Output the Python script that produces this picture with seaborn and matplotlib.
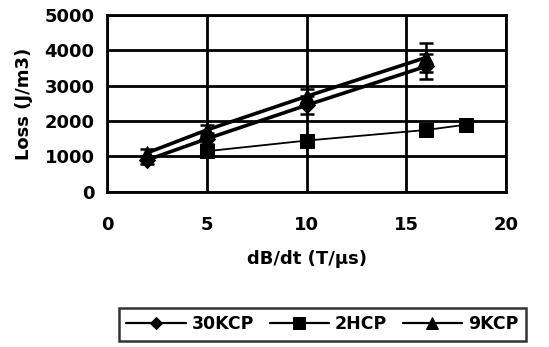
import matplotlib
matplotlib.use("Agg")
import matplotlib.pyplot as plt
import pandas as pd
import seaborn as sns

# 读取自图片的数据
x_30kcp = [2, 5, 10, 16]
loss_30kcp = [900, 1500, 2450, 3550]
err_30kcp = [100, 150, 250, 350]

x_2hcp = [5, 10, 16, 18]
loss_2hcp = [1150, 1450, 1750, 1900]

x_9kcp = [2, 5, 10, 16]
loss_9kcp = [1100, 1750, 2700, 3800]
err_9kcp = [100, 150, 200, 400]

x_ticks = [0, 5, 10, 15, 20]
y_ticks = [0, 1000, 2000, 3000, 4000, 5000]

sns.set_style("white")
plt.rcParams['font.family'] = ['DejaVu Sans']
plt.rcParams['font.weight'] = 'bold'
plt.rcParams['text.color'] = 'black'
plt.rcParams['axes.labelcolor'] = 'black'
plt.rcParams['xtick.color'] = 'black'
plt.rcParams['ytick.color'] = 'black'

df = pd.concat([
    pd.DataFrame({'x': x_30kcp, 'loss': loss_30kcp, 'series': '30KCP'}),
    pd.DataFrame({'x': x_2hcp, 'loss': loss_2hcp, 'series': '2HCP'}),
    pd.DataFrame({'x': x_9kcp, 'loss': loss_9kcp, 'series': '9KCP'}),
], ignore_index=True)

fig = plt.figure(figsize=(5.49, 3.47), dpi=100)
ax = fig.add_axes([0.195, 0.447, 0.727, 0.51])

# 网格线
for yt in y_ticks:
    ax.axhline(yt, color='black', lw=2, zorder=1)
for xt in x_ticks:
    ax.axvline(xt, color='black', lw=2, zorder=1)

styles = {'30KCP': ('D', 2.6, 8), '2HCP': ('s', 1.3, 10), '9KCP': ('^', 2.6, 10)}
for name, (mk, lw, ms) in styles.items():
    sub = df[df['series'] == name]
    sns.lineplot(data=sub, x='x', y='loss', ax=ax, color='black', marker=mk,
                 markersize=ms, linewidth=lw, markeredgecolor='black',
                 label=name, zorder=3)

ax.errorbar(x_30kcp, loss_30kcp, yerr=err_30kcp, fmt='none', ecolor='black',
            elinewidth=1.8, capsize=5, capthick=1.8, zorder=4)
ax.errorbar(x_9kcp, loss_9kcp, yerr=err_9kcp, fmt='none', ecolor='black',
            elinewidth=1.8, capsize=5, capthick=1.8, zorder=4)

ax.set_xlim(0, 20)
ax.set_ylim(0, 5000)
ax.set_xticks(x_ticks)
ax.set_yticks(y_ticks)
ax.tick_params(axis='both', labelsize=13, length=6, width=1.5, direction='inout',
               colors='black')
ax.tick_params(axis='x', pad=14)
ax.tick_params(axis='y', pad=6)
for lab in ax.get_xticklabels() + ax.get_yticklabels():
    lab.set_fontweight('bold')
for s in ax.spines.values():
    s.set_color('black')
    s.set_linewidth(2)

ax.set_xlabel('dB/dt (T/µs)', fontsize=13, fontweight='bold', labelpad=12, color='black')
ax.set_ylabel('Loss (J/m3)', fontsize=13, fontweight='bold', labelpad=8, color='black')

handles, labels = ax.get_legend_handles_labels()
ax.legend_.remove()
leg = fig.legend(handles, labels, loc='center', bbox_to_anchor=(0.587, 0.065), ncol=3,
                 frameon=True, fancybox=False, edgecolor='black', handlelength=3.4,
                 columnspacing=0.9, handletextpad=0.35, borderpad=0.45, borderaxespad=0,
                 markerscale=0.8, prop={'size': 12.5, 'weight': 'bold'})
leg.get_frame().set_linewidth(1.8)
for t in leg.get_texts():
    t.set_color('black')
# 图例中的线条较细
for h in leg.get_lines():
    h.set_linewidth(1.6)

fig.savefig('out.png', dpi=100)
